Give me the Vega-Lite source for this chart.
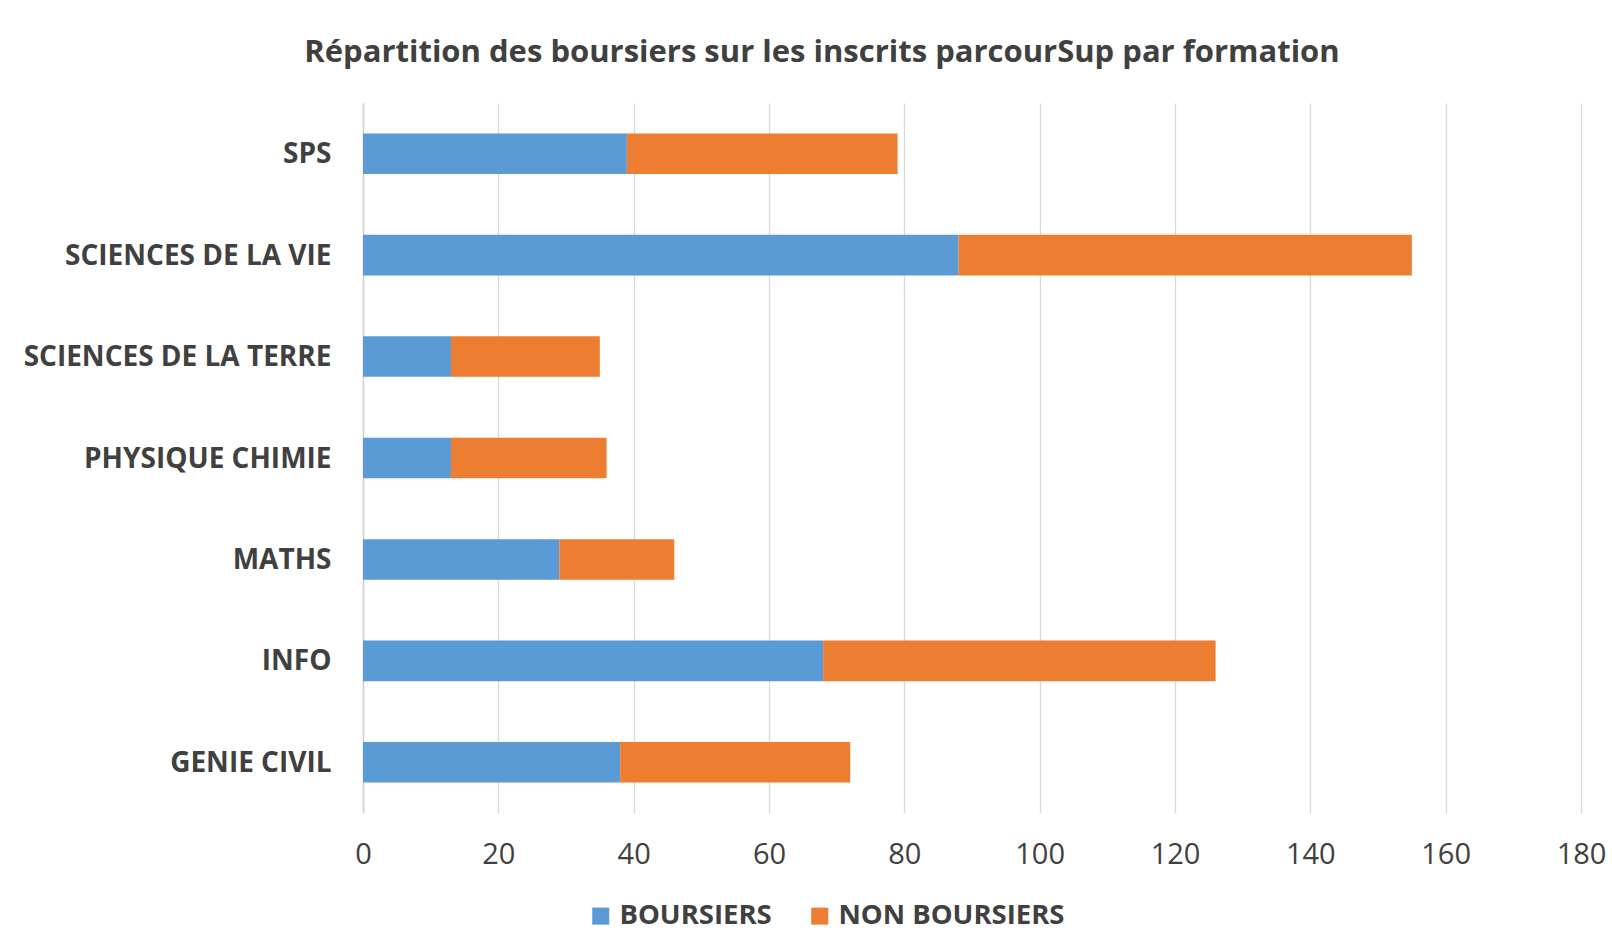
{
  "$schema": "https://vega.github.io/schema/vega-lite/v6.json",
  "autosize": "none",
  "width": 1218,
  "height": 710,
  "padding": {"left": 363, "top": 103, "right": 31, "bottom": 135},
  "background": "white",
  "title": {
    "text": "Répartition des boursiers sur les inscrits parcourSup par formation",
    "font": "Open Sans",
    "fontSize": 31,
    "fontWeight": "bold",
    "color": "#404040",
    "anchor": "middle",
    "frame": "group",
    "dx": -150,
    "offset": 34,
    "limit": 0
  },
  "data": {
    "values": [
      {"formation": "SPS", "statut": "BOURSIERS", "n": 39},
      {"formation": "SPS", "statut": "NON BOURSIERS", "n": 40},
      {"formation": "SCIENCES DE LA VIE", "statut": "BOURSIERS", "n": 88},
      {"formation": "SCIENCES DE LA VIE", "statut": "NON BOURSIERS", "n": 67},
      {"formation": "SCIENCES DE LA TERRE", "statut": "BOURSIERS", "n": 13},
      {"formation": "SCIENCES DE LA TERRE", "statut": "NON BOURSIERS", "n": 22},
      {"formation": "PHYSIQUE CHIMIE", "statut": "BOURSIERS", "n": 13},
      {"formation": "PHYSIQUE CHIMIE", "statut": "NON BOURSIERS", "n": 23},
      {"formation": "MATHS", "statut": "BOURSIERS", "n": 29},
      {"formation": "MATHS", "statut": "NON BOURSIERS", "n": 17},
      {"formation": "INFO", "statut": "BOURSIERS", "n": 68},
      {"formation": "INFO", "statut": "NON BOURSIERS", "n": 58},
      {"formation": "GENIE CIVIL", "statut": "BOURSIERS", "n": 38},
      {"formation": "GENIE CIVIL", "statut": "NON BOURSIERS", "n": 34}
    ]
  },
  "mark": {"type": "bar"},
  "encoding": {
    "y": {
      "field": "formation",
      "type": "nominal",
      "sort": ["SPS", "SCIENCES DE LA VIE", "SCIENCES DE LA TERRE", "PHYSIQUE CHIMIE", "MATHS", "INFO", "GENIE CIVIL"],
      "scale": {"paddingInner": 0.6, "paddingOuter": 0.3},
      "axis": {
        "title": null,
        "ticks": false,
        "domain": true,
        "domainColor": "#d0d0d0",
        "domainWidth": 1.5,
        "labelPadding": 32,
        "labelOffset": 1.5,
        "labelFont": "Open Sans",
        "labelFontSize": 28,
        "labelFontWeight": "bold",
        "labelColor": "#404040",
        "labelLimit": 0,
        "grid": false
      }
    },
    "x": {
      "field": "n",
      "type": "quantitative",
      "stack": "zero",
      "scale": {"domain": [0, 180], "nice": false},
      "axis": {
        "title": null,
        "values": [0, 20, 40, 60, 80, 100, 120, 140, 160, 180],
        "ticks": false,
        "domain": false,
        "grid": true,
        "gridColor": "#d9d9d9",
        "gridWidth": 1.3,
        "labelPadding": 27,
        "labelFont": "Open Sans",
        "labelFontSize": 29,
        "labelColor": "#404040",
        "labelFlush": false,
        "labelOverlap": false
      }
    },
    "color": {
      "field": "statut",
      "type": "nominal",
      "scale": {"domain": ["BOURSIERS", "NON BOURSIERS"], "range": ["#5B9BD5", "#ED7D31"]},
      "legend": {
        "title": null,
        "orient": "none",
        "direction": "horizontal",
        "legendX": 224,
        "legendY": 799,
        "padding": 0,
        "symbolType": "square",
        "symbolSize": 290,
        "symbolStrokeWidth": 0,
        "symbolOpacity": 1,
        "labelFont": "Open Sans",
        "labelFontSize": 27.5,
        "labelFontWeight": "bold",
        "labelColor": "#404040",
        "labelLimit": 0,
        "labelOffset": 5,
        "columnPadding": 34
      }
    },
    "order": {"field": "statut", "sort": "ascending"}
  },
  "config": {
    "view": {"stroke": null}
  }
}
